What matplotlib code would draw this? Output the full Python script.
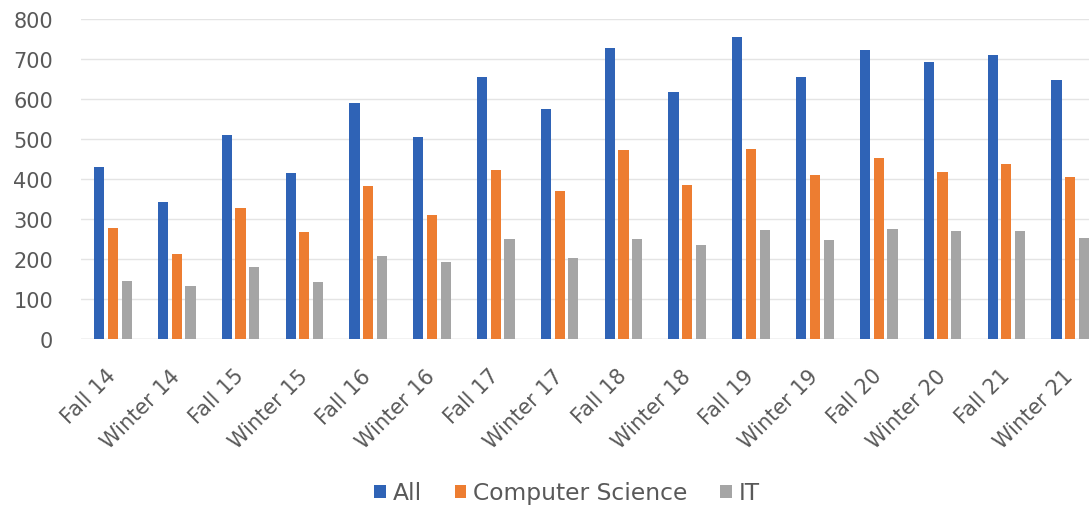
import matplotlib
matplotlib.use("Agg")
import matplotlib.pyplot as plt
import numpy as np

terms = ["Fall 14", "Winter 14", "Fall 15", "Winter 15", "Fall 16", "Winter 16",
         "Fall 17", "Winter 17", "Fall 18", "Winter 18", "Fall 19", "Winter 19",
         "Fall 20", "Winter 20", "Fall 21", "Winter 21"]
all_students = [430, 342, 510, 414, 590, 505, 655, 575, 727, 618, 755, 655, 723, 692, 710, 648]
computer_science = [277, 212, 327, 267, 383, 310, 423, 370, 473, 385, 475, 410, 453, 417, 437, 405]
it_students = [146, 133, 180, 143, 208, 192, 250, 203, 250, 235, 273, 248, 275, 270, 270, 252]

series = [("All", all_students, "#2f63b6"),
          ("Computer Science", computer_science, "#ed7d31"),
          ("IT", it_students, "#a5a5a5")]

text_color = "#595959"
plt.rcParams["font.family"] = ["DejaVu Sans"]

fig = plt.figure(figsize=(10.89, 5.10), dpi=100)
ax = fig.add_axes([0.0744, 0.3333, 0.9376, 0.6275])

x = np.arange(len(terms))
width = 0.16
step = 0.215
for i, (name, vals, color) in enumerate(series):
    ax.bar(x + (i - 1) * step, vals, width, color=color, label=name, zorder=3)

ax.set_xlim(-0.5, len(terms) - 0.5)
ax.set_ylim(0, 800)
ax.set_yticks(np.arange(0, 801, 100))
ax.grid(axis="y", color="#e4e4e4", linewidth=1, zorder=0)
for s in ax.spines.values():
    s.set_visible(False)
ax.axhline(0, color="#d9d9d9", linewidth=1, zorder=2)

ax.tick_params(axis="both", length=0, colors=text_color, labelsize=15)
ax.tick_params(axis="y", pad=20)
ax.set_xticks(x)
ax.set_xticklabels(terms, rotation=45, ha="right", va="center",
                   rotation_mode="anchor")
ax.tick_params(axis="x", pad=24)

leg = fig.legend(loc="center", bbox_to_anchor=(567 / 1089, 1 - 494 / 510),
                 ncol=3, frameon=False, fontsize=16.8, labelcolor=text_color,
                 handlelength=0.5, handleheight=0.5, handletextpad=0.3,
                 columnspacing=1.4)

fig.savefig("out.png", dpi=100, facecolor="white")
